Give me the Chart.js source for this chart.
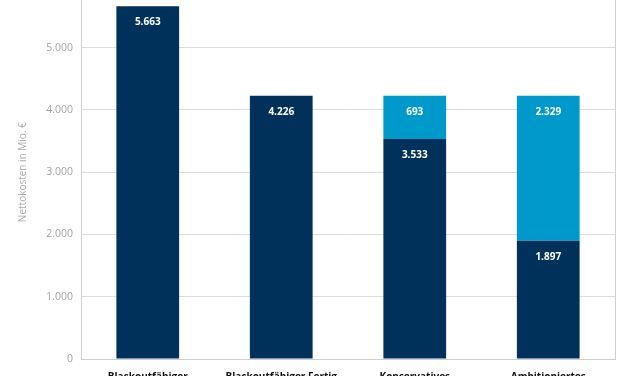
<!DOCTYPE html>
<html lang="de">
<head>
  <meta charset="UTF-8">
  <title>Nettokosten</title>
  <script src="https://cdn.jsdelivr.net/npm/chart.js@4.4.0/dist/chart.umd.min.js"></script>
  <style>
    html, body {
      margin: 0;
      padding: 0;
      background: #fff;
      overflow: hidden;
    }

    .rahmen {
      position: relative;
      width: 627px;
      height: 376px;
      overflow: hidden;
    }

    .leinwand {
      position: absolute;
      left: 0;
      top: -29px;
      width: 627px;
      height: 428px;
    }
  </style>
</head>

<body>
  <div class="rahmen">
    <div class="leinwand">
      <canvas id="grafik"></canvas>
    </div>
  </div>

  <script>
    // Szenarien
    var kategorien = [
      ["Blackoutfähiger", "Szenario"],
      ["Blackoutfähiger Fertig", "Szenario"],
      ["Konservatives", "Szenario"],
      ["Ambitioniertes", "Szenario"]
    ];
    var basis = [5663, 4226, 3533, 1897];
    var zusatz = [0, 0, 693, 2329];
    var yMax = 6000;
    var ySchritt = 1000;

    var dunkel = '#00315a';
    var hell = '#0099cc';

    // weisse Werte oben im Balken
    var wertePlugin = {
      id: 'werte',
      afterDatasetsDraw(chart) {
        let ctx = chart.ctx;
        ctx.save();
        ctx.fillStyle = '#ffffff';
        ctx.font = 'bold 10px "Open Sans"';
        ctx.textAlign = 'center';
        ctx.textBaseline = 'middle';
        chart.data.datasets.forEach(function (ds, i) {
          let meta = chart.getDatasetMeta(i);
          meta.data.forEach(function (el, j) {
            let v = ds.data[j];
            if (!v) return;
            ctx.fillText(v.toLocaleString('de-DE'), el.x, el.y + 16);
          });
        });
        ctx.restore();
      }
    };

    let ctxGrafik = document.getElementById('grafik');
    let grafik = new Chart(ctxGrafik, {
      type: 'bar',
      data: {
        labels: kategorien,
        datasets: [{
          label: 'Basis',
          data: basis,
          backgroundColor: dunkel,
          barPercentage: 0.94,
          categoryPercentage: 0.5
        }, {
          label: 'Zusatz',
          data: zusatz,
          backgroundColor: hell,
          barPercentage: 0.94,
          categoryPercentage: 0.5
        }]
      },
      options: {
        responsive: true,
        maintainAspectRatio: false,
        animation: false,
        layout: {
          padding: { top: 10, right: 12, left: 0, bottom: 0 }
        },
        plugins: {
          legend: { display: false },
          tooltip: { enabled: false }
        },
        scales: {
          x: {
            stacked: true,
            grid: { display: false, drawTicks: false },
            border: { color: '#cfcfcf' },
            ticks: {
              color: '#111',
              padding: 12,
              maxRotation: 0,
              font: { family: 'Open Sans', size: 10, weight: 'bold' }
            },
            afterFit: function (scale) { scale.height = 40; }
          },
          y: {
            stacked: true,
            min: 0,
            max: yMax,
            grid: { color: '#dcdcdc', drawTicks: false },
            border: { color: '#cfcfcf' },
            ticks: {
              stepSize: ySchritt,
              color: '#a3a3a3',
              padding: 8,
              font: { family: 'Open Sans', size: 10.5 },
              callback: function (v) { return v.toLocaleString('de-DE'); }
            },
            title: {
              display: true,
              text: 'Nettokosten in Mio. €',
              color: '#ababab',
              padding: { top: 17, bottom: 0 },
              font: { family: 'Open Sans', size: 10 }
            },
            afterFit: function (scale) { scale.width = 81; }
          },
          y2: {
            position: 'right',
            grid: { drawOnChartArea: false, drawTicks: false },
            border: { color: '#cfcfcf' },
            ticks: { display: false },
            afterFit: function (scale) { scale.width = 0; }
          }
        }
      },
      plugins: [wertePlugin]
    });
  </script>
</body>
</html>
